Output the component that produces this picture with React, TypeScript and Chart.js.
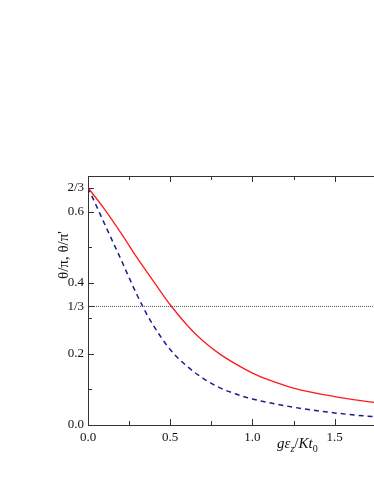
import React, { useEffect, useRef } from "react";
import { Chart, registerables } from "chart.js";
Chart.register(...registerables);

const redX = [0, 0.1, 0.2, 0.3, 0.4, 0.5, 0.6, 0.7, 0.8, 0.9, 1.0, 1.1, 1.25, 1.5, 1.75, 2.0];
const redY = [0.667, 0.607, 0.54, 0.469, 0.403, 0.338, 0.282, 0.236, 0.2, 0.171, 0.146, 0.127, 0.104, 0.08, 0.063, 0.051];
const blueX = [0, 0.05, 0.1, 0.15, 0.2, 0.25, 0.3, 0.35, 0.4, 0.5, 0.6, 0.7, 0.8, 0.9, 1.0, 1.1, 1.25, 1.5, 1.75, 2.0];
const blueY = [0.667, 0.617, 0.566, 0.516, 0.466, 0.414, 0.364, 0.318, 0.278, 0.212, 0.166, 0.131, 0.105, 0.087, 0.073, 0.063, 0.05, 0.034, 0.023, 0.017];
const refLevel = 1 / 3;
const xMajorTicks = [0, 0.5, 1.0, 1.5, 2.0];
const xMinorTicks = [0.25, 0.75, 1.25, 1.75];
const yMajorTicks = [0, 0.2, 0.4, 0.6];
const yMinorTicks = [0.1, 0.3, 0.5];
const yExtraTicks = [1 / 3, 2 / 3];
const yExtraLabels = ["1/3", "2/3"];

const FONT = "'Liberation Serif', 'Times New Roman', serif";

const framePlugin = {
  id: "frame",
  afterDraw(chart: any) {
    const { ctx, chartArea: a, scales } = chart;
    const xs = scales.x, ys = scales.y;
    ctx.save();
    ctx.strokeStyle = "#333";
    ctx.lineWidth = 1;
    ctx.beginPath();
    ctx.moveTo(a.left, a.top + 0.5);
    ctx.lineTo(a.right, a.top + 0.5);
    ctx.moveTo(a.right - 0.5, a.top);
    ctx.lineTo(a.right - 0.5, a.bottom);
    const xt = (v: number, len: number) => {
      const p = Math.round(xs.getPixelForValue(v)) + 0.5;
      ctx.moveTo(p, a.bottom);
      ctx.lineTo(p, a.bottom - len);
      ctx.moveTo(p, a.top);
      ctx.lineTo(p, a.top + len);
    };
    const yt = (v: number, len: number) => {
      const p = Math.round(ys.getPixelForValue(v)) + 0.5;
      ctx.moveTo(a.left, p);
      ctx.lineTo(a.left + len, p);
      ctx.moveTo(a.right, p);
      ctx.lineTo(a.right - len, p);
    };
    xMajorTicks.forEach((v) => xt(v, 6));
    xMinorTicks.forEach((v) => xt(v, 4));
    yMajorTicks.forEach((v) => yt(v, 6));
    yExtraTicks.forEach((v) => yt(v, 6));
    yMinorTicks.forEach((v) => yt(v, 4));
    ctx.stroke();

    ctx.fillStyle = "#111";
    // y title
    ctx.save();
    ctx.translate(64, 255);
    ctx.rotate(-Math.PI / 2);
    ctx.font = `15px ${FONT}`;
    ctx.textAlign = "center";
    ctx.textBaseline = "middle";
    ctx.fillText("θ/π, θ/π'", 0, 0);
    ctx.restore();

    // x title with subscripts
    ctx.textBaseline = "alphabetic";
    ctx.textAlign = "left";
    let x = 277;
    const base = 448;
    const part = (t: string, font: string, dy: number) => {
      ctx.font = font;
      ctx.fillText(t, x, base + dy);
      x += ctx.measureText(t).width;
    };
    part("gε", `italic 15px ${FONT}`, 0);
    part("z", `italic 10px ${FONT}`, 4);
    part("/", `15px ${FONT}`, 0);
    part("Kt", `italic 15px ${FONT}`, 0);
    part("0", `10px ${FONT}`, 4);
    ctx.restore();
  },
};

export default function App() {
  const ref = useRef<HTMLCanvasElement>(null);
  useEffect(() => {
    if (!ref.current) return;
    const chart = new Chart(ref.current, {
      type: "scatter",
      data: {
        datasets: [
          {
            data: [{ x: 0, y: refLevel }, { x: 2, y: refLevel }],
            showLine: true,
            borderColor: "#555",
            borderWidth: 1,
            borderDash: [1, 1],
            pointRadius: 0,
          },
          {
            data: redX.map((x, i) => ({ x, y: redY[i] })),
            showLine: true,
            borderColor: "#ff1a1a",
            borderWidth: 1.3,
            pointRadius: 0,
            cubicInterpolationMode: "monotone",
          },
          {
            data: blueX.map((x, i) => ({ x, y: blueY[i] })),
            showLine: true,
            borderColor: "#1c1c8c",
            borderWidth: 1.5,
            borderDash: [5, 4],
            pointRadius: 0,
            cubicInterpolationMode: "monotone",
          },
        ],
      } as any,
      options: {
        animation: false,
        responsive: false,
        events: [],
        layout: { padding: { left: 0, top: 176, right: 10, bottom: 0 } },
        plugins: { legend: { display: false }, tooltip: { enabled: false } },
        scales: {
          x: {
            type: "linear",
            min: 0,
            max: 2,
            afterFit: (s: any) => { s.height = 59; },
            afterBuildTicks: (s: any) => { s.ticks = xMajorTicks.map((v) => ({ value: v })); },
            grid: { display: false, drawTicks: false },
            border: { display: true, color: "#333", width: 1 },
            ticks: {
              autoSkip: false,
              maxRotation: 0,
              padding: 5,
              color: "#111",
              font: { family: FONT, size: 13 },
              callback: (v: any) => Number(v).toFixed(1),
            },
          },
          y: {
            type: "linear",
            min: 0,
            max: 0.7,
            afterFit: (s: any) => { s.width = 88; },
            afterBuildTicks: (s: any) => {
              s.ticks = [...yMajorTicks, ...yExtraTicks].sort((a, b) => a - b).map((v) => ({ value: v }));
            },
            grid: { display: false, drawTicks: false },
            border: { display: true, color: "#333", width: 1 },
            ticks: {
              autoSkip: false,
              padding: 4,
              color: "#111",
              font: { family: FONT, size: 13 },
              callback: (v: any) => {
                const i = yExtraTicks.findIndex((e) => Math.abs(e - v) < 1e-6);
                return i >= 0 ? yExtraLabels[i] : Number(v).toFixed(1);
              },
            },
          },
        },
      } as any,
      plugins: [framePlugin],
    });
    return () => chart.destroy();
  }, []);
  return (
    <div style={{ position: "fixed", left: 0, top: 0, width: 374, height: 484, overflow: "hidden", background: "#fff" }}>
      <canvas ref={ref} width={430} height={484} style={{ width: 430, height: 484, display: "block" }} />
    </div>
  );
}
